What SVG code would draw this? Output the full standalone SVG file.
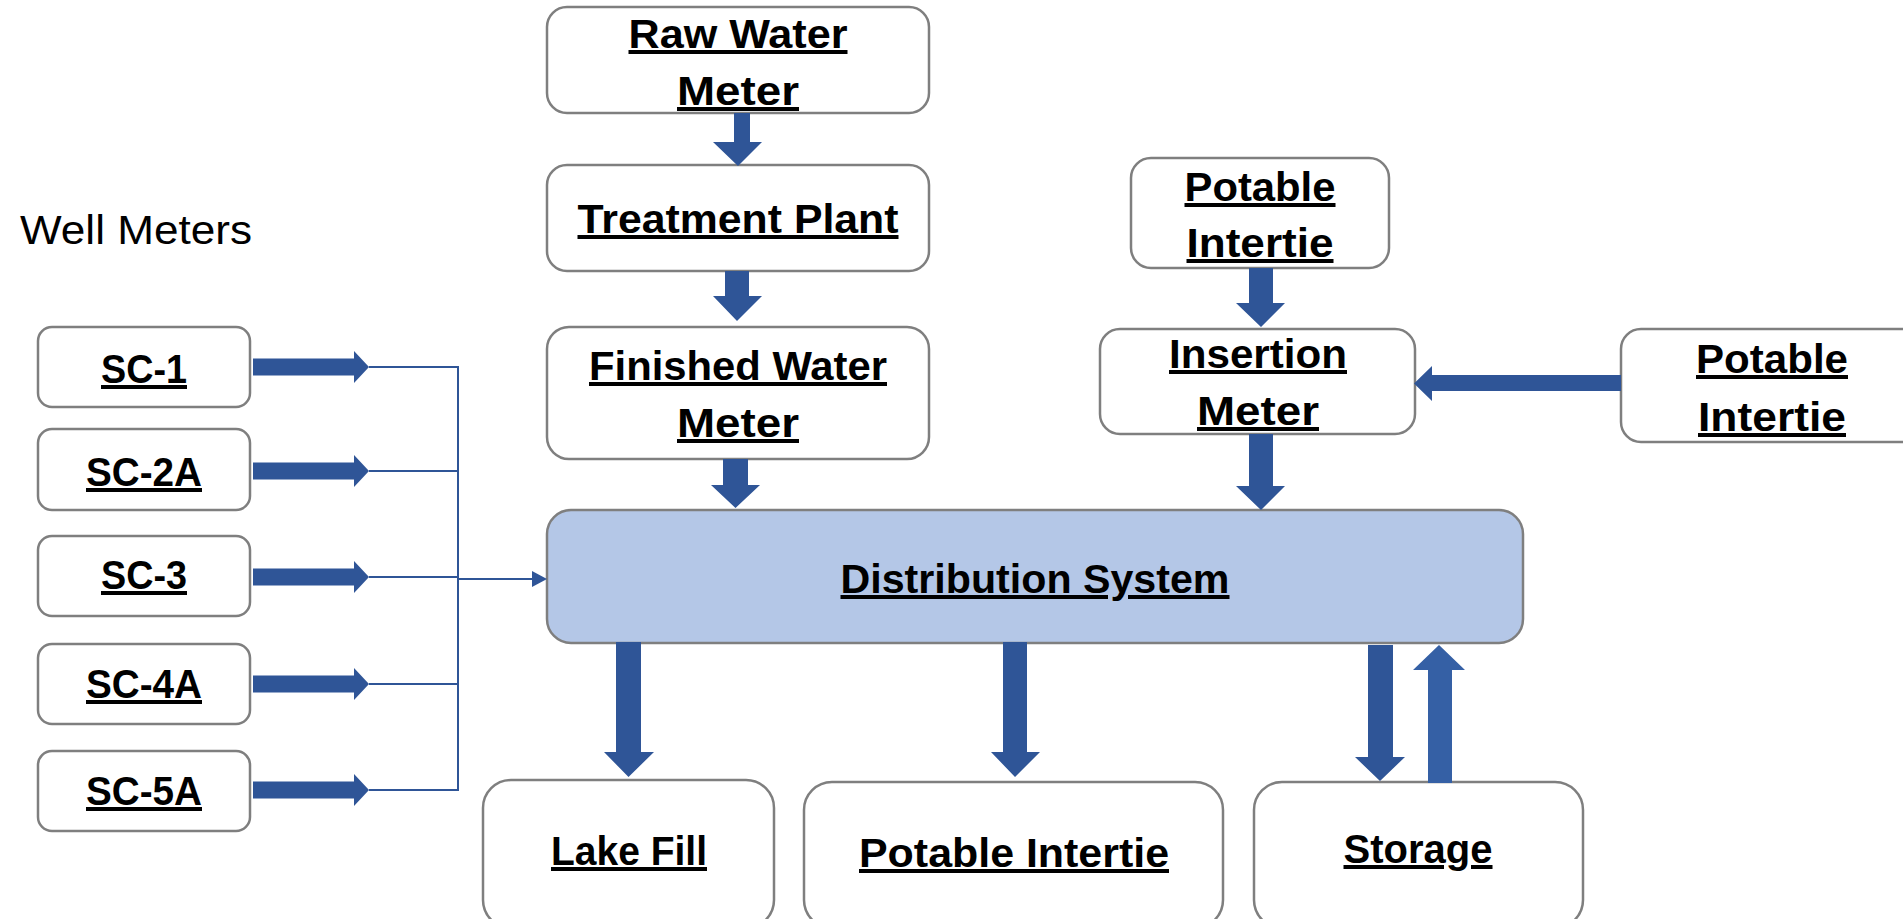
<svg xmlns="http://www.w3.org/2000/svg" width="1903" height="919" viewBox="0 0 1903 919">
<style>
.box{fill:#ffffff;stroke:#7f7f7f;stroke-width:2.5}
.dist{fill:#b4c7e7;stroke:#7f7f7f;stroke-width:2.5}
.lbl{font-family:"Liberation Sans",Arial,sans-serif;font-weight:bold;font-size:40px;fill:#000;text-anchor:middle;text-decoration:underline}
.plain{font-family:"Liberation Sans",Arial,sans-serif;font-size:41px;fill:#000}
.arr{fill:#2f5597}
.arr2{fill:#3560a5}
.thin{fill:none;stroke:#2f5597;stroke-width:2}
</style>
<rect width="1903" height="919" fill="#ffffff"/>

<text class="plain" x="20" y="244" textLength="232" lengthAdjust="spacingAndGlyphs">Well Meters</text>

<g id="raw-water-meter">
<rect class="box" x="547" y="7" width="382" height="106" rx="20"/>
<text class="lbl" x="738" y="48" textLength="219" lengthAdjust="spacingAndGlyphs">Raw Water</text>
<text class="lbl" x="738" y="105" textLength="122" lengthAdjust="spacingAndGlyphs">Meter</text>
</g>
<g id="treatment-plant">
<rect class="box" x="547" y="165" width="382" height="106" rx="20"/>
<text class="lbl" x="738" y="233" textLength="321" lengthAdjust="spacingAndGlyphs">Treatment Plant</text>
</g>
<g id="finished-water-meter">
<rect class="box" x="547" y="327" width="382" height="132" rx="22"/>
<text class="lbl" x="738" y="380" textLength="298" lengthAdjust="spacingAndGlyphs">Finished Water</text>
<text class="lbl" x="738" y="437" textLength="122" lengthAdjust="spacingAndGlyphs">Meter</text>
</g>
<g id="potable-intertie-top">
<rect class="box" x="1131" y="158" width="258" height="110" rx="20"/>
<text class="lbl" x="1260" y="201" textLength="151" lengthAdjust="spacingAndGlyphs">Potable</text>
<text class="lbl" x="1260" y="257" textLength="147" lengthAdjust="spacingAndGlyphs">Intertie</text>
</g>
<g id="insertion-meter">
<rect class="box" x="1100" y="329" width="315" height="105" rx="20"/>
<text class="lbl" x="1258" y="368" textLength="178" lengthAdjust="spacingAndGlyphs">Insertion</text>
<text class="lbl" x="1258" y="425" textLength="122" lengthAdjust="spacingAndGlyphs">Meter</text>
</g>
<g id="potable-intertie-right">
<rect class="box" x="1621" y="329" width="310" height="113" rx="20"/>
<text class="lbl" x="1772" y="373" textLength="152" lengthAdjust="spacingAndGlyphs">Potable</text>
<text class="lbl" x="1772" y="431" textLength="148" lengthAdjust="spacingAndGlyphs">Intertie</text>
</g>
<g id="distribution-system">
<rect class="dist" x="547" y="510" width="976" height="133" rx="24"/>
<text class="lbl" x="1035" y="593" font-size="43" textLength="389" lengthAdjust="spacingAndGlyphs">Distribution System</text>
</g>
<g id="sc-1">
<rect class="box" x="38" y="327" width="212" height="80" rx="14"/>
<text class="lbl" x="144" y="383" textLength="86" lengthAdjust="spacingAndGlyphs">SC-1</text>
</g>
<g id="sc-2a">
<rect class="box" x="38" y="429" width="212" height="81" rx="14"/>
<text class="lbl" x="144" y="486" textLength="116" lengthAdjust="spacingAndGlyphs">SC-2A</text>
</g>
<g id="sc-3">
<rect class="box" x="38" y="536" width="212" height="80" rx="14"/>
<text class="lbl" x="144" y="589" textLength="86" lengthAdjust="spacingAndGlyphs">SC-3</text>
</g>
<g id="sc-4a">
<rect class="box" x="38" y="644" width="212" height="80" rx="14"/>
<text class="lbl" x="144" y="698" textLength="116" lengthAdjust="spacingAndGlyphs">SC-4A</text>
</g>
<g id="sc-5a">
<rect class="box" x="38" y="751" width="212" height="80" rx="14"/>
<text class="lbl" x="144" y="805" textLength="116" lengthAdjust="spacingAndGlyphs">SC-5A</text>
</g>
<g id="lake-fill">
<rect class="box" x="483" y="780" width="291" height="148" rx="28"/>
<text class="lbl" x="629" y="865" textLength="156" lengthAdjust="spacingAndGlyphs">Lake Fill</text>
</g>
<g id="potable-intertie-bottom">
<rect class="box" x="804" y="782" width="419" height="146" rx="28"/>
<text class="lbl" x="1014" y="867" textLength="310" lengthAdjust="spacingAndGlyphs">Potable Intertie</text>
</g>
<g id="storage">
<rect class="box" x="1254" y="782" width="329" height="146" rx="28"/>
<text class="lbl" x="1418" y="863" textLength="149" lengthAdjust="spacingAndGlyphs">Storage</text>
</g>

<g id="connectors">
<polygon class="arr" points="734,113 750,113 750,142 762,142 738,166 713,142 734,142"/>
<polygon class="arr" points="725,271 749,271 749,296 762,296 737,321 713,296 725,296"/>
<polygon class="arr" points="723,459 748,459 748,485 760,485 735.5,508 711,485 723,485"/>
<polygon class="arr" points="1249,268 1273,268 1273,303 1285,303 1261,327 1236,303 1249,303"/>
<polygon class="arr" points="1249,434 1273,434 1273,486 1285,486 1261,510 1236,486 1249,486"/>
<polygon class="arr" points="1621,375 1432,375 1432,366 1414,383.5 1432,401 1432,391 1621,391"/>
<polygon class="arr" points="616,642 641,642 641,752 654,752 628.5,777 604,752 616,752"/>
<polygon class="arr" points="1003,642 1027,642 1027,752 1040,752 1015,777 991,752 1003,752"/>
<polygon class="arr" points="1368,645 1393,645 1393,757 1405,757 1380,781 1355,757 1368,757"/>
<polygon class="arr2" points="1428,783 1452,783 1452,670 1465,670 1439,645 1413,670 1428,670"/>

<polygon class="arr" points="253,358.5 354,358.5 354,351 369,367 354,383 354,375.5 253,375.5"/>
<polygon class="arr" points="253,462.5 354,462.5 354,455 369,471 354,487 354,479.5 253,479.5"/>
<polygon class="arr" points="253,568.5 354,568.5 354,561 369,577 354,593 354,585.5 253,585.5"/>
<polygon class="arr" points="253,675.5 354,675.5 354,668 369,684 354,700 354,692.5 253,692.5"/>
<polygon class="arr" points="253,781.5 354,781.5 354,774 369,790 354,806 354,798.5 253,798.5"/>

<polyline class="thin" points="369,367 458,367 458,790 369,790"/>
<line class="thin" x1="369" y1="471" x2="458" y2="471"/>
<line class="thin" x1="369" y1="577" x2="458" y2="577" stroke-width="1.2"/>
<line class="thin" x1="369" y1="684" x2="458" y2="684" stroke-width="1.2"/>
<line class="thin" x1="458" y1="579" x2="533" y2="579"/>
<polygon class="arr" points="532,571 547,579 532,587"/>
</g>
</svg>
